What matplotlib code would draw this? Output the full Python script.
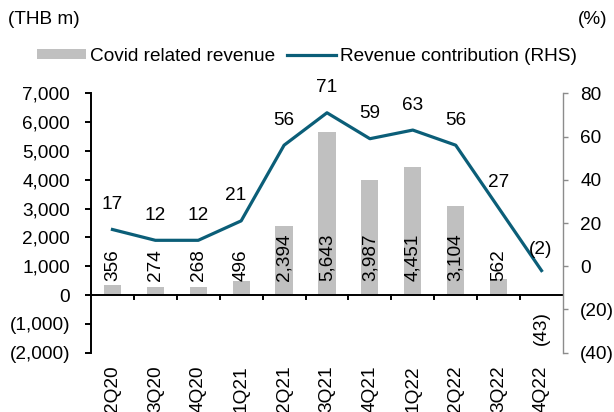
import matplotlib
matplotlib.use("Agg")
import matplotlib.pyplot as plt
import numpy as np

plt.rcParams['font.family'] = ['Liberation Sans', 'DejaVu Sans']

quarters = ["2Q20", "3Q20", "4Q20", "1Q21", "2Q21", "3Q21", "4Q21", "1Q22", "2Q22", "3Q22", "4Q22"]
covid_rev = [356, 274, 268, 496, 2394, 5643, 3987, 4451, 3104, 562, -43]
contribution = [17, 12, 12, 21, 56, 71, 59, 63, 56, 27, -2]

bar_color = "#c0c0c0"
line_color = "#0b5e78"
fs = 13.7

fig = plt.figure(figsize=(6.14, 4.12), dpi=100)
ax = fig.add_axes([0.1482, 0.1439, 0.7687, 0.6296])
ax2 = ax.twinx()

x = np.arange(len(quarters))
bars = ax.bar(x, covid_rev, width=0.40, color=bar_color, zorder=2, label="Covid related revenue")
ax.set_xlim(-0.5, len(quarters) - 0.5)
ax.set_ylim(-2000, 7000)
ax.set_yticks(np.arange(-2000, 7001, 1000))
ax.set_yticklabels([f"({abs(v):,})" if v < 0 else f"{v:,}" for v in range(-2000, 7001, 1000)], fontsize=fs)

ln, = ax2.plot(x, contribution, color=line_color, lw=2.3, zorder=3, label="Revenue contribution (RHS)")
ax2.set_ylim(-40, 80)
ax2.set_yticks(np.arange(-40, 81, 20))
ax2.set_yticklabels([f"({abs(v)})" if v < 0 else f"{v}" for v in range(-40, 81, 20)], fontsize=fs)

# spines
for s in ["top", "bottom"]:
    ax.spines[s].set_visible(False)
    ax2.spines[s].set_visible(False)
ax2.spines["left"].set_visible(False)
ax.spines["right"].set_visible(False)
ax.spines["left"].set_color("black")
ax.spines["left"].set_linewidth(1.4)
ax2.spines["right"].set_color("#8c8c8c")
ax2.spines["right"].set_linewidth(1.0)
ax.tick_params(axis="y", direction="out", length=4, width=1.4, colors="black", pad=11)
ax2.tick_params(axis="y", direction="out", length=3.5, width=1.0, color="#8c8c8c", labelcolor="black", pad=9)

# zero line with category ticks
ax.axhline(0, color="black", lw=1.4, zorder=4)
for b in np.arange(0.5, len(quarters) - 1, 1.0):
    ax.plot([b, b], [0, -120], color="black", lw=1.4, zorder=4, clip_on=False)
ax.set_xticks(x)
ax.set_xticklabels(quarters, rotation=90, fontsize=fs)
ax.tick_params(axis="x", length=0, pad=9)

# bar labels
for xi, v in zip(x, covid_rev):
    if v >= 0:
        ax.text(xi, 480, f"{v:,}", rotation=90, ha="center", va="bottom", fontsize=fs, zorder=5)
    else:
        ax.text(xi, -1160, f"({abs(v)})", rotation=90, ha="center", va="center", fontsize=fs, zorder=5)

# line labels
offsets = {3: (-4, 0), 10: (-1, -3)}
for i, (xi, v) in enumerate(zip(x, contribution)):
    dx, dy = offsets.get(i, (0, 0))
    lab = f"({abs(v)})" if v < 0 else f"{v}"
    ax2.annotate(lab, (xi, v), xytext=(dx, 18 + dy), textcoords="offset points",
                 ha="center", va="center", fontsize=fs)

fig.text(0.013, 0.952, "(THB m)", fontsize=fs, ha="left", va="center")
fig.text(0.99, 0.952, "(%)", fontsize=fs, ha="right", va="center")

fig.legend(handles=[bars, ln], loc="center", bbox_to_anchor=(0.5, 0.864), ncol=2, frameon=False,
           fontsize=fs, handlelength=2.55, handleheight=0.47, handletextpad=0.22, columnspacing=0.63)

fig.savefig("out.png", dpi=100)
